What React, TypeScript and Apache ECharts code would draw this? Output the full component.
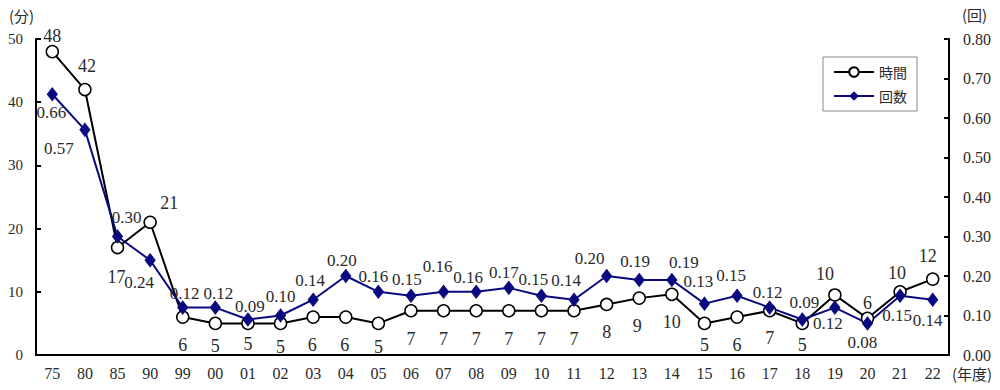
import React, { useEffect, useRef } from 'react';
import * as echarts from 'echarts';

const categories = ['75','80','85','90','99','00','01','02','03','04','05','06','07','08','09','10','11','12','13','14','15','16','17','18','19','20','21','22'];
const timeValues = [48,42,17,21,6,5,5,5,6,6,5,7,7,7,7,7,7,8,9,9.6,5,6,7,5,9.5,5.8,10,12];
const countValues = [0.66,0.57,0.30,0.24,0.12,0.12,0.09,0.10,0.14,0.20,0.16,0.15,0.16,0.16,0.17,0.15,0.14,0.20,0.19,0.19,0.13,0.15,0.12,0.09,0.12,0.08,0.15,0.14];
const leftTicks = { min: 0, max: 50, interval: 10 };
const rightTicks = { min: 0, max: 0.8, interval: 0.1 };
const seriesNames = ['時間', '回数'];

// label offsets (style only)
const timeLabelOffsets: number[][] = [
  [0,-16],[2,-24],[-1,29],[19,-19],[0,28],[0,23],[0,21],[0,24],[-1,28],[-1,28],[0,24],
  [0,28],[0,28],[0,28],[0,28],[0,28],[0,28],[0,28],[-2,28],[0,28],[0,22],[0,28],[0,27],[0,22],
  [-10,-21],[0,-15],[-3,-19],[-5,-23]
];
const countLabelOffsets: number[][] = [
  [-1,18],[-26,19],[9,-19],[-11,22],[2,-14],[3,-14],[2,-13],[0,-19],[-3,-19],[-4,-16],[-5,-15],
  [-4,-16],[-6,-25],[-8,-14],[-5,-15],[-8,-16],[-8,-19],[-17,-18],[-4,-18],[12,-17],[-6,-22],
  [-6,-20],[-2,-15],[2,-17],[-7,16],[-5,19],[-3,20],[-5,21]
];

const SERIF = '"Liberation Serif", "DejaVu Serif", serif';
const CJK = '"Noto Sans CJK JP", sans-serif';
const TEXT = '#2a2a2a';
const NAVY = '#0a0a80';

export default function App() {
  const ref = useRef<HTMLDivElement>(null);
  useEffect(() => {
    const chart = echarts.init(ref.current!, null, { renderer: 'svg' });
    const option: any = {
      animation: false,
      backgroundColor: '#ffffff',
      grid: { left: 36, right: 51, top: 39, bottom: 35, containLabel: false },
      legend: {
        data: seriesNames,
        orient: 'vertical',
        left: 823,
        top: 57,
        padding: [8, 10, 8, 10],
        itemGap: 10,
        itemWidth: 40,
        itemHeight: 12,
        borderColor: '#888',
        borderWidth: 1,
        textStyle: { fontFamily: CJK, fontSize: 14, color: TEXT },
      },
      xAxis: {
        type: 'category',
        data: categories,
        boundaryGap: true,
        axisLine: { lineStyle: { color: '#000', width: 2 } },
        axisTick: { inside: true, length: 5, lineStyle: { color: '#000', width: 2 } },
        axisLabel: { fontFamily: SERIF, fontSize: 16, color: TEXT, margin: 10, interval: 0 },
        splitLine: { show: false },
      },
      yAxis: [
        {
          type: 'value',
          ...leftTicks,
          position: 'left',
          axisLine: { show: true, lineStyle: { color: '#000', width: 2 } },
          axisTick: { show: true, inside: true, length: 5, lineStyle: { color: '#000', width: 2 } },
          axisLabel: { fontFamily: SERIF, fontSize: 15, color: TEXT, margin: 13 },
          splitLine: { show: false },
        },
        {
          type: 'value',
          ...rightTicks,
          position: 'right',
          axisLine: { show: true, lineStyle: { color: '#000', width: 2 } },
          axisTick: { show: true, inside: true, length: 5, lineStyle: { color: '#000', width: 2 } },
          axisLabel: { fontFamily: SERIF, fontSize: 16, color: TEXT, margin: 14, formatter: (v: number) => v.toFixed(2) },
          splitLine: { show: false },
        },
      ],
      series: [
        {
          name: seriesNames[0],
          type: 'line',
          yAxisIndex: 0,
          symbol: 'circle',
          symbolSize: 12,
          lineStyle: { color: '#000', width: 2 },
          itemStyle: { color: '#ffffff', borderColor: '#000', borderWidth: 1.5 },
          label: {
            show: true,
            position: 'inside',
            align: 'center',
            verticalAlign: 'middle',
            fontFamily: SERIF,
            fontSize: 18,
            color: TEXT,
            formatter: (p: any) => String(Math.round(p.value)),
          },
          data: timeValues.map((v, i) => ({ value: v, label: { offset: timeLabelOffsets[i] } })),
        },
        {
          name: seriesNames[1],
          type: 'line',
          yAxisIndex: 1,
          symbol: 'diamond',
          symbolSize: [10, 13],
          lineStyle: { color: NAVY, width: 2 },
          itemStyle: { color: NAVY, borderColor: NAVY },
          label: {
            show: true,
            position: 'inside',
            align: 'center',
            verticalAlign: 'middle',
            fontFamily: SERIF,
            fontSize: 17,
            color: TEXT,
            formatter: (p: any) => Number(p.value).toFixed(2),
          },
          data: countValues.map((v, i) => ({ value: v, label: { offset: countLabelOffsets[i] } })),
        },
      ],
      graphic: [
        { type: 'text', x: 9, y: 15, style: { text: '(分)', font: `15px ${CJK}`, fill: TEXT, textVerticalAlign: 'middle' } },
        { type: 'text', x: 962, y: 14, style: { text: '(回)', font: `15px ${CJK}`, fill: TEXT, textVerticalAlign: 'middle' } },
        { type: 'text', x: 952, y: 373, style: { text: '(年度)', font: `15px ${CJK}`, fill: TEXT, textVerticalAlign: 'middle' } },
      ],
    };
    chart.setOption(option);
    return () => chart.dispose();
  }, []);
  return <div ref={ref} style={{ position: 'fixed', left: 0, top: 0, width: 1000, height: 390 }} />;
}
